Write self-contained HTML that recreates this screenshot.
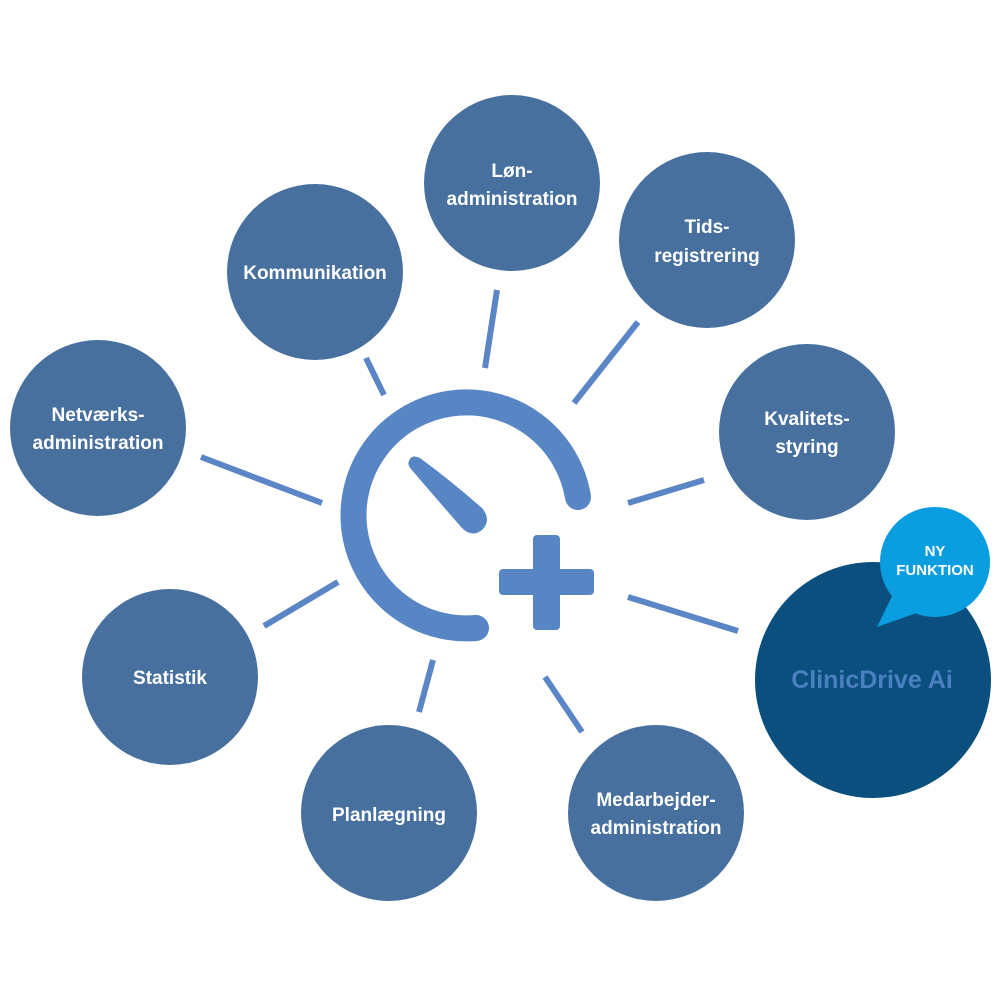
<!DOCTYPE html>
<html><head><meta charset="utf-8"><style>
html,body{margin:0;padding:0;background:#fff}
svg{display:block}
text{font-family:"Liberation Sans",sans-serif;font-weight:bold}
</style></head><body>
<svg width="1000" height="1000" viewBox="0 0 1000 1000" xmlns="http://www.w3.org/2000/svg">
<g stroke="#5b86c5" stroke-width="6">
<line x1="497" y1="290" x2="485" y2="368"/>
<line x1="366" y1="358" x2="384" y2="395"/>
<line x1="638" y1="322" x2="574" y2="403"/>
<line x1="201" y1="457" x2="322" y2="503"/>
<line x1="704" y1="480" x2="628" y2="503"/>
<line x1="338" y1="582" x2="264" y2="626"/>
<line x1="433" y1="660" x2="419" y2="712"/>
<line x1="545" y1="677" x2="582" y2="732"/>
<line x1="628" y1="597" x2="738" y2="631"/>
</g>
<path d="M476 628 A113 113 0 1 1 578 497" fill="none" stroke="#5886c4" stroke-width="26" stroke-linecap="round"/>
<path d="M409 461 Q411 454 420 458 Q450 480 482 508 Q492 520 482 530 Q472 538 462 528 Q434 496 411 469 Q407 464 409 461 Z" fill="#5886c4"/>
<rect x="499" y="569" width="95" height="26" rx="4" fill="#5886c4"/>
<rect x="533" y="535" width="27" height="95" rx="4" fill="#5886c4"/>
<g fill="#47709e">
<circle cx="512" cy="183" r="88"/>
<circle cx="315" cy="272" r="88"/>
<circle cx="707" cy="240" r="88"/>
<circle cx="98" cy="428" r="88"/>
<circle cx="807" cy="432" r="88"/>
<circle cx="170" cy="677" r="88"/>
<circle cx="389" cy="813" r="88"/>
<circle cx="656" cy="813" r="88"/>
</g>
<circle cx="873" cy="680" r="118" fill="#0a4f7e"/>
<path d="M877 627 L895 590 L925 610 Z" fill="#0a9de0"/>
<circle cx="935" cy="562" r="55" fill="#0a9de0"/>
<g fill="#fff" font-size="19" text-anchor="middle">
<text x="512" y="177">Løn-</text><text x="512" y="205">administration</text>
<text x="315" y="279">Kommunikation</text>
<text x="707" y="233">Tids-</text><text x="707" y="262">registrering</text>
<text x="98" y="421">Netværks-</text><text x="98" y="449">administration</text>
<text x="807" y="425">Kvalitets-</text><text x="807" y="453">styring</text>
<text x="170" y="684">Statistik</text>
<text x="389" y="821">Planlægning</text>
<text x="656" y="806">Medarbejder-</text><text x="656" y="834">administration</text>
</g>
<g fill="#fff" font-size="15" text-anchor="middle">
<text x="935" y="556">NY</text><text x="935" y="575">FUNKTION</text>
</g>
<text x="872" y="688" fill="#4a7fc0" font-size="25" text-anchor="middle">ClinicDrive Ai</text>
</svg>
</body></html>
